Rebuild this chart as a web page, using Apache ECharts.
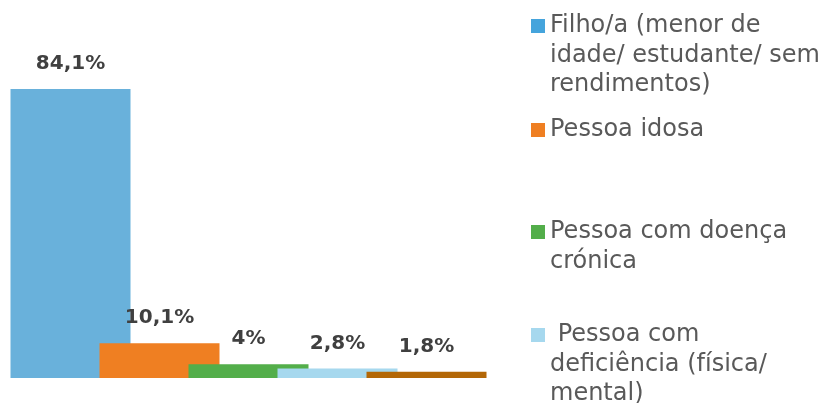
<!DOCTYPE html>
<html>
<head>
<meta charset="utf-8">
<script src="https://cdn.jsdelivr.net/npm/echarts@6/dist/echarts.min.js"></script>
<style>
  html, body { margin: 0; padding: 0; background: #fff; }
  #chart { width: 822px; height: 403px; }
</style>
</head>
<body>
<div id="chart"></div>
<script>
const categories = ['Filho/a', 'Pessoa idosa', 'Doença crónica', 'Deficiência', 'Outro']
const seriesNames = [
  'Filho/a (menor de\nidade/ estudante/ sem\nrendimentos)',
  'Pessoa idosa',
  'Pessoa com doença\ncrónica',
  ' Pessoa com\ndeficiência (física/\nmental)',
  'Outro'
]
const values = [84.1, 10.1, 4, 2.8, 1.8]
const colors = ['#69B1DB', '#EF7F22', '#53AE4A', '#A6D8EE', '#B36706']
const legendIconColors = ['#45A4DC', '#EF7F22', '#53AE4A', '#A6D8EE']
// first-line centre of each legend entry
const legendY = [26, 130, 232, 335]

const font = '"DejaVu Sans", sans-serif'
const lineH = 29.5

const chart = echarts.init(document.getElementById('chart'))

const series = values.map((v, i) => ({
  name: seriesNames[i],
  type: 'bar',
  barWidth: 120,
  barGap: '-100%',
  clip: false,
  itemStyle: { color: colors[i] },
  label: {
    show: true,
    position: 'top',
    distance: 15,
    color: '#404040',
    fontFamily: font,
    fontWeight: 'bold',
    fontSize: 20,
    formatter: p => String(p.value).replace('.', ',') + '%'
  },
  data: categories.map((c, j) => (j === i ? v : '-'))
}))

// legend text is centred on the icon, so lead with empty lines to keep the icon on line 1
const legends = legendY.map((y, i) => {
  const n = seriesNames[i].split('\n').length
  return {
    orient: 'vertical',
    left: 531,
    top: y - (2 * n - 1) * lineH / 2,
    padding: 0,
    itemWidth: 14,
    itemHeight: 14,
    icon: 'rect',
    data: [{ name: seriesNames[i], itemStyle: { color: legendIconColors[i] } }],
    formatter: name => ' \n'.repeat(n - 1) + name,
    textStyle: {
      color: '#595959',
      fontFamily: font,
      fontSize: 24,
      lineHeight: lineH
    }
  }
})

chart.setOption({
  animation: false,
  grid: { left: 26, right: 351, top: 34.4, bottom: 25 },
  xAxis: {
    type: 'category',
    data: categories,
    axisLine: { show: false },
    axisTick: { show: false },
    axisLabel: { show: false }
  },
  yAxis: {
    type: 'value',
    min: 0,
    max: 100,
    show: false,
    splitLine: { show: false }
  },
  legend: legends,
  series: series
})
</script>
</body>
</html>
